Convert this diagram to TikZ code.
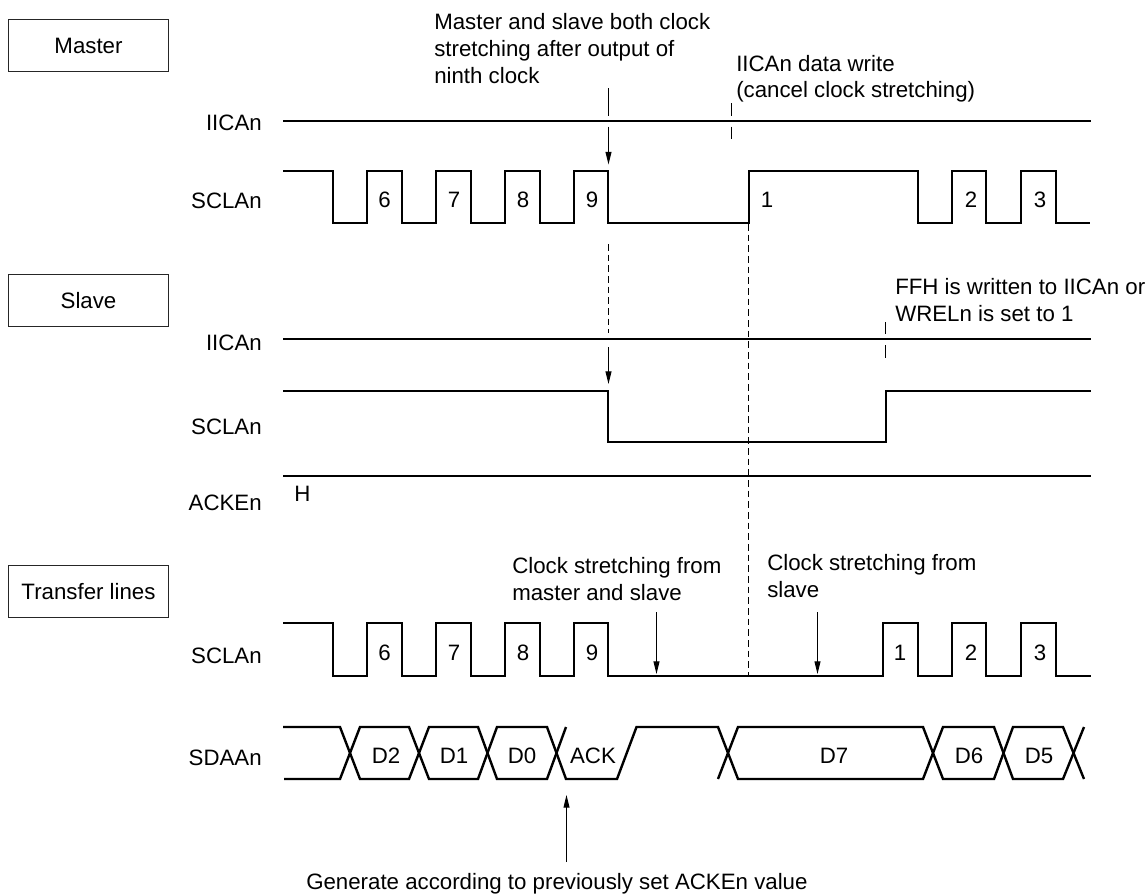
\documentclass[tikz,border=0pt]{standalone}
\usepackage{fontspec}
\setmainfont{Liberation Sans}
\usetikzlibrary{arrows.meta}
\tikzset{
  wave/.style={line width=1.8pt,line join=miter,line cap=butt},
  thin line/.style={line width=0.9pt},
  arrowline/.style={line width=0.9pt,-{Triangle[length=9.5pt,width=4.4pt]}},
  dashline/.style={line width=0.9pt,dash pattern=on 5pt off 3pt},
  boxnode/.style={draw=black!85,line width=0.7pt,minimum width=120pt,minimum height=39pt,inner sep=0pt,anchor=center,font=\txt},
  sig/.style={anchor=base east,inner sep=0pt,font=\txt},
  note/.style={anchor=base west,inner sep=0pt,font=\txt},
  mid/.style={anchor=base,inner sep=0pt,font=\txt},
}
\newcommand{\txt}{\fontsize{16.7}{19}\selectfont}
\begin{document}
\begin{tikzpicture}[x=0.75pt,y=-0.75pt]
\useasboundingbox (0,0) rectangle (1146,893);
% boxes
\node[boxnode] (bm) at (88.5,45.5) {Master};
\node[boxnode] (bs) at (88.5,300.5) {Slave};
\node[boxnode] (bt) at (88.5,591.5) {Transfer lines};
% signal labels
\node[sig] (l1) at (262,130) {IICAn};
\node[sig] (l2) at (262,208) {SCLAn};
\node[sig] (l3) at (262,350) {IICAn};
\node[sig] (l4) at (262,434) {SCLAn};
\node[sig] (l5) at (262,510) {ACKEn};
\node[sig] (l6) at (262,663) {SCLAn};
\node[sig] (l7) at (262,765) {SDAAn};
\node[note] (h) at (294,501) {H};
% notes
\node[note] (n1a) at (434,29) {Master and slave both clock};
\node[note] (n1b) at (434,56) {stretching after output of};
\node[note] (n1c) at (434,83) {ninth clock};
\node[note] (n2a) at (736,71) {IICAn data write};
\node[note] (n2b) at (736,97) {(cancel clock stretching)};
\node[note] (n3a) at (895,294) {FFH is written to IICAn or};
\node[note] (n3b) at (895,321) {WRELn is set to 1};
\node[note] (n4a) at (512,573) {Clock stretching from};
\node[note] (n4b) at (512,600) {master and slave};
\node[note] (n5a) at (767,570) {Clock stretching from};
\node[note] (n5b) at (767,597) {slave};
\node[note] (n6) at (306,889) {Generate according to previously set ACKEn value};
% flat lines
\draw[wave] (283,121) -- (1091,121);
\draw[wave] (283,339) -- (1091,339);
\draw[wave] (283,476) -- (1091,476);
% master SCL
\draw[wave] (283,171) -| (333,223) -| (367,171) -| (402,223) -| (436,171) -| (471,223) -| (505,171) -| (540,223) -| (574,171) -| (608,223) -| (749,171) -| (918,223) -| (952,171) -| (986,223) -| (1021,171) -| (1056,223) -- (1090,223);
% slave SCL
\draw[wave] (283,391) -| (608,442) -| (886,391) -- (1091,391);
% transfer SCL
\draw[wave] (283,623) -| (333,676) -| (367,623) -| (402,676) -| (436,623) -| (471,676) -| (505,623) -| (540,676) -| (574,623) -| (608,676) -| (883,623) -| (918,676) -| (952,623) -| (986,676) -| (1021,623) -| (1056,676) -- (1091,676);
% numbers
\foreach \x/\t in {384.5/6,454/7,523/8,592/9,767/1,971/2,1040/3}
  \node[mid] at (\x,207) {\t};
\foreach \x/\t in {384.5/6,454/7,523/8,592/9,900/1,971/2,1040/3}
  \node[mid] at (\x,660) {\t};
% SDA
\draw[wave] (283,727) -- (340,727) -- (360,779) -- (409,779) -- (429,727) -- (478,727) -- (497,779) -- (547,779) -- (566,727);
\draw[wave] (284,779) -- (340,779) -- (360,727) -- (409,727) -- (429,779) -- (478,779) -- (497,727) -- (547,727) -- (566,779) -- (617,779) -- (636.5,727) -- (718,727) -- (738,779) -- (923,779) -- (943,727) -- (994,727) -- (1013,779) -- (1063,779) -- (1084,727);
\draw[wave] (718,779) -- (738,727) -- (923,727) -- (943,779) -- (994,779) -- (1013,727) -- (1063,727) -- (1084,779);
\foreach \x/\t in {386/D2,454/D1,522/D0,593/ACK,834/D7,969/D6,1039/D5}
  \node[mid] at (\x,763) {\t};
% arrows and ticks
\draw[thin line] (608.5,88) -- (608.5,115.5);
\draw[arrowline] (608.5,126.5) -- (608.5,164.5);
\draw[thin line] (731.5,103) -- (731.5,116);
\draw[thin line] (731.5,126.5) -- (731.5,139);
\draw[dashline] (608.5,244) -- (608.5,333);
\draw[arrowline] (608.5,347) -- (608.5,384);
\draw[thin line] (885.5,322) -- (885.5,334);
\draw[thin line] (885.5,345) -- (885.5,358);
\draw[dashline] (748.5,224) -- (748.5,675);
\draw[arrowline] (656.5,612) -- (656.5,674);
\draw[arrowline] (817.5,612) -- (817.5,674);
\draw[arrowline] (566.5,862) -- (566.5,795);
\end{tikzpicture}
\end{document}
